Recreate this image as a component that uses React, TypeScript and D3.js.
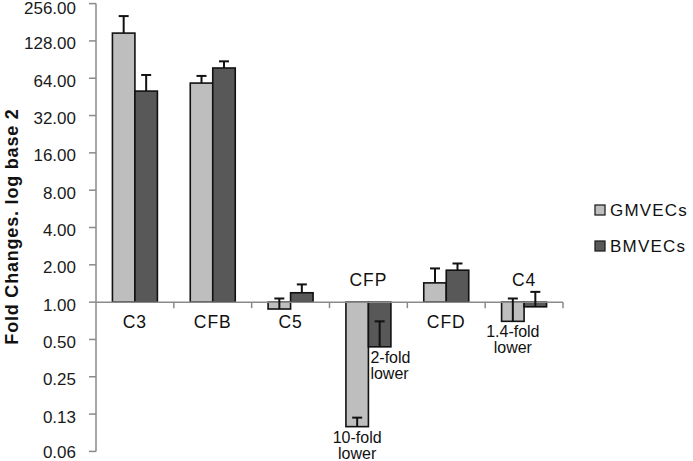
import React from "react";
import * as d3 from "d3";

const categories = ["C3", "CFB", "C5", "CFP", "CFD", "C4"];
const seriesNames = ["GMVECs", "BMVECs"];
const gmValues = [148, 58.5, 0.88, 0.099, 1.43, 0.70];
const bmValues = [50.4, 77.4, 1.19, 0.436, 1.81, 0.917];
const gmErrTop = [203, 66.8, 1.07, 0.117, 1.87, 1.07];
const bmErrTop = [68, 87.6, 1.39, 0.70, 2.05, 1.21];
const tickValues = [0.0625, 0.125, 0.25, 0.5, 1, 2, 4, 8, 16, 32, 64, 128, 256];
const tickLabels = ["0.06", "0.13", "0.25", "0.50", "1.00", "2.00", "4.00", "8.00", "16.00", "32.00", "64.00", "128.00", "256.00"];
const annotations = [
  { cat: "CFP", series: 0, lines: ["10-fold", "lower"], anchor: "middle" },
  { cat: "CFP", series: 1, lines: ["2-fold", "lower"], anchor: "start" },
  { cat: "C4", series: 0, lines: ["1.4-fold", "lower"], anchor: "middle" },
];
const yTitle = "Fold Changes. log base 2";

const W = 693;
const H = 461;
const colors = ["#bebebe", "#585858"];
const axisColor = "#8a8a8a";
const FONT = "'Liberation Sans', Arial, sans-serif";

export default function App() {
  const left = 96;
  const right = 563;
  const y = d3.scaleLog().base(2).domain([0.0625, 256]).range([451.4, 3.6]);
  const x0 = d3.scaleBand<string>().domain(categories).range([left, right]).padding(0);
  const x1 = d3
    .scaleBand<string>()
    .domain(seriesNames)
    .range([0, x0.bandwidth()])
    .paddingInner(0)
    .paddingOuter(0.73);
  const base = y(1);
  const values = [gmValues, bmValues];
  const errs = [gmErrTop, bmErrTop];

  return (
    <svg
      width={W}
      height={H}
      style={{ position: "absolute", left: 0, top: 0, background: "#fff" }}
      fontFamily={FONT}
    >
      {/* y axis */}
      <line x1={left} x2={left} y1={y(256)} y2={y(0.0625)} stroke={axisColor} strokeWidth={1.5} />
      {tickValues.map((t, i) => (
        <g key={t}>
          <line x1={left - 7} x2={left} y1={y(t)} y2={y(t)} stroke={axisColor} strokeWidth={1.5} />
          <text
            x={76}
            y={y(t) + (i === tickValues.length - 1 ? 4.5 : i === 0 ? 1.5 : 3)}
            textAnchor="end"
            dominantBaseline="central"
            fontSize={17}
            fill="#1a1a1a"
          >
            {tickLabels[i]}
          </text>
        </g>
      ))}
      {/* y title */}
      <text
        transform={`translate(18, 226.5) rotate(-90)`}
        textAnchor="middle"
        fontSize={18}
        fontWeight="bold"
        letterSpacing={0.8}
        fill="#111"
      >
        {yTitle}
      </text>

      {/* bars */}
      {categories.map((c, ci) =>
        seriesNames.map((s, si) => {
          const v = values[si][ci];
          const bx = (x0(c) as number) + (x1(s) as number);
          const bw = x1.bandwidth();
          const yv = y(v);
          return (
            <rect
              key={c + s}
              x={bx}
              y={Math.min(yv, base)}
              width={bw}
              height={Math.abs(yv - base)}
              fill={colors[si]}
              stroke="#111"
              strokeWidth={1.6}
            />
          );
        })
      )}

      {/* x axis */}
      <line x1={left} x2={right} y1={base} y2={base} stroke={axisColor} strokeWidth={1.5} />
      {categories.map((c) => {
        const xe = (x0(c) as number) + x0.bandwidth();
        return <line key={"t" + c} x1={xe} x2={xe} y1={base} y2={base + 6} stroke={axisColor} strokeWidth={1.5} />;
      })}

      {/* error bars */}
      {categories.map((c, ci) =>
        seriesNames.map((s, si) => {
          const v = values[si][ci];
          const e = errs[si][ci];
          const cx = (x0(c) as number) + (x1(s) as number) + x1.bandwidth() / 2;
          return (
            <g key={"e" + c + s} stroke="#111" strokeWidth={2}>
              <line x1={cx} x2={cx} y1={y(v)} y2={y(e)} />
              <line x1={cx - 5} x2={cx + 5} y1={y(e)} y2={y(e)} />
            </g>
          );
        })
      )}

      {/* category labels */}
      {categories.map((c, ci) => {
        const allBelow = gmValues[ci] < 1 && bmValues[ci] < 1;
        const cx = (x0(c) as number) + x0.bandwidth() / 2;
        return (
          <text
            key={"l" + c}
            x={cx}
            y={allBelow ? base - 16 : base + 26}
            textAnchor="middle"
            fontSize={17.5}
            letterSpacing={1}
            fill="#111"
          >
            {c}
          </text>
        );
      })}

      {/* annotations */}
      {annotations.map((a, ai) => {
        const ci = categories.indexOf(a.cat);
        const v = values[a.series][ci];
        const bx = (x0(a.cat) as number) + (x1(seriesNames[a.series]) as number);
        const tx = a.anchor === "middle" ? bx + x1.bandwidth() / 2 : bx + 2;
        const ty = y(v) + 16;
        return (
          <text key={"a" + ai} x={tx} y={ty} textAnchor={a.anchor} fontSize={16} fill="#111">
            {a.lines.map((ln, li) => (
              <tspan key={li} x={tx} dy={li === 0 ? 0 : 16}>
                {ln}
              </tspan>
            ))}
          </text>
        );
      })}

      {/* legend */}
      {seriesNames.map((s, si) => (
        <g key={"lg" + s} transform={`translate(595, ${205 + si * 36})`}>
          <rect x={0} y={0} width={10} height={10} fill={colors[si]} stroke="#222" strokeWidth={1.3} />
          <text x={15} y={11} fontSize={17} letterSpacing={1.2} fill="#111">
            {s}
          </text>
        </g>
      ))}
    </svg>
  );
}
